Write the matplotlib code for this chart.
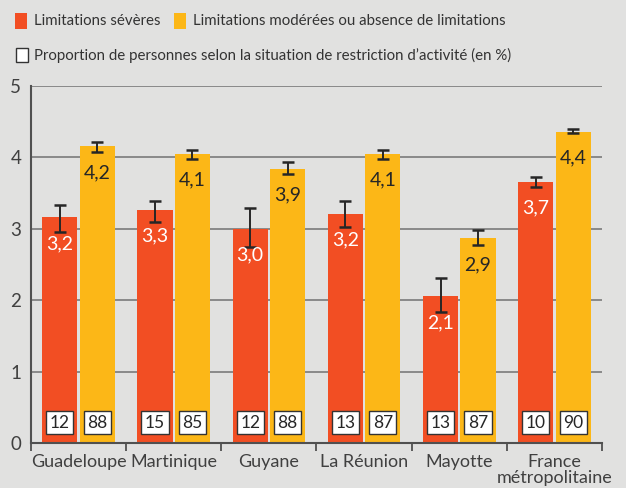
import matplotlib
matplotlib.use("Agg")
import matplotlib.pyplot as plt
import numpy as np
from matplotlib.patches import Rectangle

categories = ["Guadeloupe", "Martinique", "Guyane", "La Réunion", "Mayotte", "France\nmétropolitaine"]
severe = [3.16, 3.27, 3.00, 3.21, 2.06, 3.66]
severe_lo = [2.96, 3.10, 2.75, 3.02, 1.84, 3.59]
severe_hi = [3.34, 3.39, 3.29, 3.39, 2.31, 3.72]
moderate = [4.16, 4.05, 3.84, 4.05, 2.87, 4.36]
moderate_lo = [4.08, 3.98, 3.77, 3.98, 2.78, 4.34]
moderate_hi = [4.21, 4.11, 3.93, 4.11, 2.98, 4.40]
severe_labels = ["3,2", "3,3", "3,0", "3,2", "2,1", "3,7"]
moderate_labels = ["4,2", "4,1", "3,9", "4,1", "2,9", "4,4"]
severe_pct = ["12", "15", "12", "13", "13", "10"]
moderate_pct = ["88", "85", "88", "87", "87", "90"]

RED = "#f24e23"
YELLOW = "#fcb717"
BG = "#e1e1e0"
DARK = "#262626"

plt.rcParams['font.family'] = ['Lato', 'DejaVu Sans']

fig = plt.figure(figsize=(6.26, 4.88), dpi=100, facecolor=BG)
W, H = 626, 488
ax = fig.add_axes([31 / W, (H - 443.3) / H, (602 - 31) / W, (443.3 - 86) / H])
ax.set_facecolor(BG)

x = np.arange(len(categories))
bw = 0.368
off = 0.197

sev = np.array(severe)
mod = np.array(moderate)
ax.bar(x - off, sev, bw, color=RED, zorder=2)
ax.bar(x + off, mod, bw, color=YELLOW, zorder=2)
ax.errorbar(x - off, sev, yerr=[sev - np.array(severe_lo), np.array(severe_hi) - sev],
            fmt='none', ecolor=DARK, elinewidth=1.4, capsize=4.5, capthick=1.8, zorder=3)
ax.errorbar(x + off, mod, yerr=[mod - np.array(moderate_lo), np.array(moderate_hi) - mod],
            fmt='none', ecolor=DARK, elinewidth=1.4, capsize=4.5, capthick=1.8, zorder=3)

for i in range(len(categories)):
    ax.text(x[i] - off, sev[i] - 0.37, severe_labels[i], color="white", ha="center", va="center",
            fontsize=14, zorder=4)
    ax.text(x[i] + off, mod[i] - 0.37, moderate_labels[i], color=DARK, ha="center", va="center",
            fontsize=14, zorder=4)
    for xx, t in ((x[i] - off, severe_pct[i]), (x[i] + off, moderate_pct[i])):
        ax.text(xx, 0.29, t, color=DARK, ha="center", va="center", fontsize=12.5, zorder=5,
                bbox=dict(boxstyle="square,pad=0.2", fc="white", ec="#333333", lw=1.0))

ax.set_xlim(-0.5, len(categories) - 0.5)
ax.set_ylim(0, 5)
ax.set_yticks([0, 1, 2, 3, 4, 5])
ax.set_yticklabels(["0", "1", "2", "3", "4", "5"], fontsize=13.5, color="#404040")
ax.yaxis.grid(True, color="#7a7a7a", lw=1.2, zorder=1)
ax.set_axisbelow(True)
ax.tick_params(axis='y', length=0, pad=7)

ax.set_xticks(np.arange(len(categories) + 1) - 0.5)
ax.set_xticklabels([])
ax.set_xticks(x, minor=True)
ax.set_xticklabels(categories, minor=True, fontsize=13, color="#404040", linespacing=0.95)
ax.tick_params(axis='x', which='major', length=6, width=1.3, color="#505050")
ax.tick_params(axis='x', which='minor', length=0, pad=8)

for s in ("top", "right"):
    ax.spines[s].set_visible(False)
for s in ("left", "bottom"):
    ax.spines[s].set_color("#505050")
    ax.spines[s].set_linewidth(1.5)

# legend
fs_leg = 10.8
fig.patches.append(Rectangle((15 / W, (H - 29) / H), 12 / W, 16 / H, transform=fig.transFigure,
                             fc=RED, ec="none"))
fig.text(34 / W, (H - 21) / H, "Limitations sévères", fontsize=fs_leg, va="center", color="#333333")
fig.patches.append(Rectangle((174 / W, (H - 29) / H), 12 / W, 16 / H, transform=fig.transFigure,
                             fc=YELLOW, ec="none"))
fig.text(193 / W, (H - 21) / H, "Limitations modérées ou absence de limitations", fontsize=fs_leg,
         va="center", color="#333333")
fig.patches.append(Rectangle((15.5 / W, (H - 62) / H), 12 / W, 14 / H, transform=fig.transFigure,
                             fc="white", ec="#333333", lw=1.0))
fig.text(34 / W, (H - 55) / H, "Proportion de personnes selon la situation de restriction d’activité (en %)",
         fontsize=fs_leg, va="center", color="#333333")

fig.savefig("out.png", dpi=100, facecolor=BG)
